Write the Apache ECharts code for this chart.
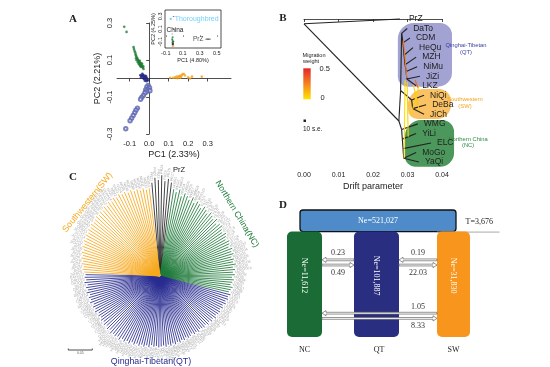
<!DOCTYPE html>
<html><head><meta charset="utf-8">
<script src="https://cdn.jsdelivr.net/npm/echarts@6/dist/echarts.min.js"></script>
<style>html,body{margin:0;padding:0;background:#fff}#c{width:550px;height:367px}</style>
</head><body><div id="c"></div>
<script>
// ---------------- Panel A: PCA ----------------
const pcaGreen = [[-0.128,0.280],[-0.116,0.252],[-0.080,0.170],[-0.078,0.160],[-0.075,0.150],[-0.072,0.142],[-0.070,0.132],[-0.068,0.125],[-0.066,0.118],[-0.062,0.112],[-0.060,0.106],[-0.057,0.100],[-0.055,0.096],[-0.052,0.092],[-0.050,0.088],[-0.048,0.084],[-0.046,0.080],[-0.044,0.076],[-0.041,0.072],[-0.038,0.068],[-0.035,0.064],[-0.032,0.058],[-0.029,0.052],[-0.058,0.088],[-0.054,0.080],[-0.050,0.074],[-0.046,0.068],[-0.042,0.062],[-0.064,0.098],[-0.068,0.108],[-0.040,0.084],[-0.036,0.078],[-0.048,0.096],[-0.030,0.066]];
const pcaNavy = [[-0.045,0.018],[-0.040,0.015],[-0.036,0.012],[-0.032,0.020],[-0.028,0.010],[-0.024,0.016],[-0.020,0.008],[-0.016,0.013],[-0.012,0.004],[-0.030,0.002],[-0.025,-0.004],[-0.018,-0.002],[-0.010,-0.008],[-0.022,-0.012],[-0.014,-0.015],[-0.006,-0.010],[-0.035,0.026],[-0.042,0.005]];
const pcaBlueOpen = [[-0.005,-0.038],[-0.012,-0.045],[0.002,-0.050],[-0.008,-0.058],[-0.018,-0.062],[0.004,-0.066],[-0.014,-0.072],[-0.022,-0.078],[-0.030,-0.092],[-0.038,-0.102],[-0.044,-0.112],[-0.060,-0.160],[-0.068,-0.172],[-0.074,-0.185],[-0.082,-0.200],[-0.090,-0.215],[-0.098,-0.228],[-0.120,-0.272]];
const pcaOrange = [[0.108,0.004],[0.124,0.004],[0.133,0.006],[0.141,0.010],[0.148,0.008],[0.152,0.012],[0.158,0.014],[0.164,0.010],[0.167,0.018],[0.172,0.024],[0.178,0.024],[0.184,0.016],[0.200,0.006],[0.210,0.000],[0.220,0.010],[0.270,0.010],[0.145,0.002],[0.160,0.004]];
const xTicksA = [-0.1,0,0.1,0.2,0.3];
const yTicksA = [-0.3,-0.1,0.1,0.3];
// inset
const insetGreen = [[-0.02,-0.03],[-0.025,-0.06],[-0.02,-0.08],[-0.015,-0.10],[-0.022,-0.11],[-0.018,-0.125]];
const insetNavy = [[-0.02,-0.14],[-0.015,-0.135]];
const insetOrange = [[-0.02,-0.17],[-0.012,-0.165]];
const insetTeal = [[-0.025,0.02]];
const insetThoroughbred = [[-0.043,0.26]];
const insetPrZ = [[0.385,-0.06],[0.41,-0.06]];
const xTicksInset = [-0.1,0.1,0.3,0.5];
const yTicksInset = [-0.1,0.1,0.3];

// ---------------- Panel B: TreeMix ----------------
const treemixLeaves = ['PrZ','DaTo','CDM','HeQu','MZH','NiMu','JiZi','LKZ','NiQi','DeBa','JiCh','WMG','YiLi','ELC','MoGo','YaQi'];
const leafDrift = [0.0278,0.0299,0.0307,0.0316,0.0325,0.0328,0.0336,0.0325,0.0348,0.0354,0.0348,0.0330,0.0325,0.0368,0.0325,0.0333];
// edges: [drift1, leafPos1, drift2, leafPos2]
const treeEdges = [
 [0,0.5,0.0278,0],[0,0.5,0.0275,10.7],
 [0.0275,10.7,0.0280,7.5],[0.0280,7.5,0.0283,1.5],
 [0.0283,1.5,0.0299,1],[0.0283,1.5,0.0287,2.5],
 [0.0287,2.5,0.0307,2],[0.0287,2.5,0.0290,3.8],
 [0.0290,3.8,0.0316,3],[0.0290,3.8,0.0293,4.8],
 [0.0293,4.8,0.0325,4],[0.0293,4.8,0.0296,5.5],
 [0.0296,5.5,0.0328,5],[0.0296,5.5,0.0298,6.3],
 [0.0298,6.3,0.0336,6],[0.0298,6.3,0.0325,7],
 [0.0280,7.5,0.0312,8.5],[0.0312,8.5,0.0348,8],
 [0.0312,8.5,0.0315,9.4],[0.0315,9.4,0.0354,9],[0.0315,9.4,0.0348,10],
 [0.0275,10.7,0.0283,11.6],[0.0283,11.6,0.0330,11],
 [0.0283,11.6,0.0285,12.6],[0.0285,12.6,0.0325,12],
 [0.0285,12.6,0.0287,13.6],[0.0287,13.6,0.0368,13],
 [0.0287,13.6,0.0289,14.6],[0.0289,14.6,0.0325,14],[0.0289,14.6,0.0333,15]
];
// migration edges: [drift1, pos1, drift2, pos2, weight]
const migEdges = [
 [0.0293,6.4,0.0290,14.6,0.02],[0.0299,6.6,0.0302,12.35,0.05],
 [0.0317,6.9,0.0334,9.55,0.08],[0.0333,7.0,0.0310,10.1,0.05],
 [0.0288,2.2,0.0298,6.2,0.30],[0.0322,6.4,0.0330,7.2,0.35]
];
// clade regions: [drift1, pos1, drift2, pos2]
const cladeNames = ['Qinghai-Tibetan','Southwestern','Northern China'];
const cladeAbbr = ['(QT)','(SW)','(NC)'];
const cladeBoxes = [[0.0272,0.42,0.0429,7.1],[0.0301,7.35,0.0426,10.5],[0.0293,10.6,0.0435,15.5]];

// ---------------- Panel C: radial NJ tree ----------------
const prBreeds = ['PrZ'], prCounts = [7];
const prLen = [0.195,0.205,0.200,0.210,0.198,0.203,0.196];
const ncBreeds = ['WMG','YiLi','ELC','MoGo','YaQi'], ncCounts = [10,10,9,10,9];
const ncLen = [0.183,0.178,0.185,0.172,0.180,0.176,0.170,0.178,0.168,0.174,0.171,0.165,0.172,0.168,0.163,0.170,0.166,0.162,0.168,0.160,0.165,0.167,0.161,0.158,0.164,0.160,0.156,0.162,0.159,0.155,0.161,0.157,0.160,0.154,0.158,0.155,0.160,0.153,0.157,0.152,0.156,0.150,0.154,0.151,0.148,0.153,0.150,0.147];
const qtBreeds = ['LKZ','JiZi','NiMu','MZH','HeQu','CDM','DaTo'], qtCounts = [12,12,12,12,12,12,12];
const qtLen = [0.152,0.148,0.150,0.146,0.149,0.144,0.147,0.143,0.146,0.145,0.142,0.146,
 0.141,0.144,0.140,0.143,0.139,0.142,0.140,0.138,0.142,0.139,0.141,0.137,0.140,
 0.142,0.139,0.143,0.141,0.145,0.142,0.146,0.143,0.147,0.144,0.148,0.145,0.147,
 0.149,0.146,0.148,0.145,0.150,0.147,0.151,0.148,0.152,0.149,0.153,0.150,0.155,
 0.152,0.156,0.153,0.158,0.154,0.157,0.155,0.159,0.153,0.156,0.152,0.155,0.151,
 0.154,0.150,0.153,0.149,0.155,0.151,0.154,0.150,0.156,0.152,0.155,0.151,
 0.157,0.153,0.156,0.152,0.158,0.154,0.157,0.155];
const swBreeds = ['JiCh','DeBa','NiQi'], swCounts = [14,14,13];
const swLen = [0.158,0.162,0.160,0.165,0.163,0.168,0.166,0.170,0.168,0.173,
 0.171,0.175,0.172,0.177,0.174,0.178,0.176,0.180,0.177,0.179,
 0.182,0.179,0.184,0.181,0.186,0.183,0.188,0.185,0.190,0.187,
 0.191,0.188,0.190,0.186,0.189,0.185,0.187,0.183,0.186,0.182,0.184];
const cGroupNames = ['PrZ','Northern China(NC)','Qinghai-Tibetan(QT)','Southwestern(SW)'];
const scaleBarValue = 0.05;

// ---------------- Panel D: demography ----------------
const popNames = ['NC','QT','SW'];
const popNe = [11612,101887,31830];
const ancNe = 521027;
const splitT = 3676;
const migFrom = [0,1,0], migTo = [1,2,2];
const migRateUpper = [0.23,0.19,1.05];
const migRateLower = [0.49,22.03,8.33];

// ================= styles / layout =================
const SANS = 'Liberation Sans, Arial, sans-serif';
const SERIF = 'Liberation Serif, Times New Roman, serif';
const colGreen = '#1f7a33', colNavy = '#1d2180', colBlue = '#5a63b0', colOrange = '#f6a11e';
const cColors = ['#222222','#1f7a3a','#272a8f','#f7a81b'];
const cladeFill = ['#a2a2d3','#fac262','#4c975b'];
const cladeText = ['#3b3fa0','#f5a31e','#2f8a45'];
const popColors = ['#1b6b36','#2a2e80','#f7951d'];
const boxW = [35,45,33];
const popTop = 0.83, migRows = [0.587,0.587,0.167];
const POLAR_R = 96, POLAR_MAX = 0.2;

const fmtComma = n => String(n).replace(/\B(?=(\d{3})+(?!\d))/g, ',');
const migColor = w => echarts.color.lerp(Math.min(w/0.5,1), ['#ffe400','#f7901e','#e3262b']);

// build leaves of panel C
const leafNames = [], leafLen = [], leafGroup = [];
[[prBreeds,prCounts,prLen],[ncBreeds,ncCounts,ncLen],[qtBreeds,qtCounts,qtLen],[swBreeds,swCounts,swLen]].forEach((g,gi)=>{
  let k = 0;
  g[0].forEach((b,bi)=>{
    for (let j=1;j<=g[1][bi];j++){ leafNames.push(b.toUpperCase()+j); leafLen.push(g[2][k++]); leafGroup.push(gi); }
  });
});

const axLine = {show:true, lineStyle:{color:'#222', width:0.8}};
const axTick = {show:true, length:3, lineStyle:{color:'#222', width:0.8}};

const chart = echarts.init(document.getElementById('c'));
const option = {
  backgroundColor:'#fff',
  animation:false,
  grid:[
    {left:117, top:23, width:114, height:111, outerBoundsMode:'none'},
    {left:165, top:10, width:56, height:38, show:true, borderColor:'#222', borderWidth:0.8, backgroundColor:'#fff', outerBoundsMode:'none'},
    {left:304, top:19, width:138, height:143, outerBoundsMode:'none'},
    {left:267.25, top:210, width:223.5, height:127, outerBoundsMode:'none'}
  ],
  xAxis:[
    {gridIndex:0, type:'value', min:-0.165, max:0.42, offset:3, axisLine:axLine,
     axisTick:Object.assign({customValues:xTicksA}, axTick), splitLine:{show:false},
     axisLabel:{customValues:xTicksA, formatter:v=>v.toFixed(1), fontSize:7.5, fontFamily:SANS, color:'#222', margin:3},
     name:'PC1 (2.33%)', nameLocation:'middle', nameGap:13, nameTextStyle:{fontSize:9, fontFamily:SANS, color:'#222'}},
    {gridIndex:1, type:'value', min:-0.11, max:0.55, axisLine:{show:false},
     axisTick:{show:true, customValues:xTicksInset, length:1.5, lineStyle:{color:'#222', width:0.6}}, splitLine:{show:false},
     axisLabel:{customValues:xTicksInset, formatter:v=>v.toFixed(1), fontSize:5.5, fontFamily:SANS, color:'#222', margin:2},
     name:'PC1 (4.80%)', nameLocation:'middle', nameGap:9, nameTextStyle:{fontSize:5.5, fontFamily:SANS, color:'#222'}},
    {gridIndex:2, type:'value', min:0, max:0.04, interval:0.01, offset:7, axisLine:axLine,
     axisTick:axTick, splitLine:{show:false},
     axisLabel:{formatter:v=>v.toFixed(2), fontSize:7, fontFamily:SANS, color:'#222', margin:3},
     name:'Drift parameter', nameLocation:'middle', nameGap:13, nameTextStyle:{fontSize:9, fontFamily:SANS, color:'#222'}},
    {gridIndex:3, type:'category', data:popNames, axisLine:{show:false}, axisTick:{show:false}, splitLine:{show:false},
     axisLabel:{fontSize:8, fontFamily:SERIF, color:'#222', margin:9}}
  ],
  yAxis:[
    {gridIndex:0, type:'value', min:-0.3, max:0.3, axisLine:axLine,
     axisTick:Object.assign({customValues:yTicksA}, axTick), splitLine:{show:false},
     axisLabel:{customValues:yTicksA, formatter:v=>v.toFixed(1), rotate:90, fontSize:7.5, fontFamily:SANS, color:'#222', margin:3},
     name:'PC2 (2.21%)', nameLocation:'middle', nameGap:15, nameRotate:90, nameTextStyle:{fontSize:9, fontFamily:SANS, color:'#222'}},
    {gridIndex:1, type:'value', min:-0.2, max:0.4, axisLine:{show:false},
     axisTick:{show:true, customValues:yTicksInset, length:1.5, lineStyle:{color:'#222', width:0.6}}, splitLine:{show:false},
     axisLabel:{customValues:yTicksInset, formatter:v=>v.toFixed(1), rotate:90, fontSize:5.5, fontFamily:SANS, color:'#222', margin:2},
     name:'PC2 (4.25%)', nameLocation:'middle', nameGap:8, nameRotate:90, nameTextStyle:{fontSize:5.5, fontFamily:SANS, color:'#222'}},
    {gridIndex:2, type:'value', min:0, max:15, inverse:true, show:false},
    {gridIndex:3, type:'value', min:0, max:1, show:false}
  ],
  polar:{center:[160,276], radius:POLAR_R},
  angleAxis:{type:'category', data:leafNames, startAngle:96, show:false, axisLine:{show:false}, axisLabel:{show:false}, axisTick:{show:false}, splitLine:{show:false}},
  radiusAxis:{min:0, max:POLAR_MAX, show:false, axisLine:{show:false}, axisLabel:{show:false}, axisTick:{show:false}, splitLine:{show:false}},
  series:[
    {type:'scatter', xAxisIndex:0, yAxisIndex:0, data:pcaGreen, symbolSize:2.6, itemStyle:{color:colGreen}},
    {type:'scatter', xAxisIndex:0, yAxisIndex:0, data:pcaNavy, symbolSize:2.6, itemStyle:{color:colNavy}},
    {type:'scatter', xAxisIndex:0, yAxisIndex:0, data:pcaBlueOpen, symbol:'emptyCircle', symbolSize:3.4, itemStyle:{color:colBlue, borderColor:colBlue, borderWidth:0.7}},
    {type:'scatter', xAxisIndex:0, yAxisIndex:0, data:pcaOrange, symbolSize:2.6, itemStyle:{color:colOrange}},
    {type:'scatter', xAxisIndex:1, yAxisIndex:1, data:insetGreen, symbolSize:2, itemStyle:{color:colGreen}, z:5},
    {type:'scatter', xAxisIndex:1, yAxisIndex:1, data:insetNavy, symbolSize:2, itemStyle:{color:colNavy}, z:5},
    {type:'scatter', xAxisIndex:1, yAxisIndex:1, data:insetOrange, symbolSize:2, itemStyle:{color:colOrange}, z:5},
    {type:'scatter', xAxisIndex:1, yAxisIndex:1, data:insetTeal, symbolSize:1.5, itemStyle:{color:'#6fb7a6'}, z:5},
    {type:'scatter', xAxisIndex:1, yAxisIndex:1, data:insetThoroughbred, symbol:'rect', symbolSize:2, itemStyle:{color:'#4fc3f7'}, z:5,
     label:{show:true, position:'right', distance:3, formatter:'Thoroughbred', fontSize:7, fontFamily:SANS, color:'#4fc3f7'}},
    {type:'scatter', xAxisIndex:1, yAxisIndex:1, data:insetPrZ, symbol:'rect', symbolSize:[3,1], itemStyle:{color:'#222'}, z:5,
     label:{show:true, position:'left', distance:2, formatter:p=>p.dataIndex===0?'PrZ':'', fontSize:6.5, fontFamily:SANS, color:'#222'}},
    // Panel B clades
    {type:'custom', xAxisIndex:2, yAxisIndex:2, data:cladeBoxes, z:1, clip:false,
     renderItem:(p,api)=>{
       const a = api.coord([api.value(0),api.value(1)]), b = api.coord([api.value(2),api.value(3)]);
       const i = p.dataIndex;
       const tx = b[0] + 14, ty = (a[1]+b[1])/2 - (i===0?6:1);
       return {type:'group', children:[
         {type:'rect', shape:{x:a[0], y:a[1], width:b[0]-a[0], height:b[1]-a[1], r:[16,12,14,10]}, style:{fill:cladeFill[i]}},
         {type:'text', x:tx, y:ty, style:{text:cladeNames[i]+'\n'+cladeAbbr[i], fontSize:5.8, lineHeight:6.5, fontFamily:SANS, fill:cladeText[i], align:'center', verticalAlign:'middle'}}
       ]};
     }},
    {type:'custom', xAxisIndex:2, yAxisIndex:2, data:treeEdges, z:3, clip:false,
     renderItem:(p,api)=>{
       const a = api.coord([api.value(0),api.value(1)]), b = api.coord([api.value(2),api.value(3)]);
       return {type:'line', shape:{x1:a[0],y1:a[1],x2:b[0],y2:b[1]}, style:{stroke:'#222', lineWidth:1.1}};
     }},
    {type:'custom', xAxisIndex:2, yAxisIndex:2, data:migEdges, z:4, clip:false,
     renderItem:(p,api)=>{
       const a = api.coord([api.value(0),api.value(1)]), b = api.coord([api.value(2),api.value(3)]);
       return {type:'line', shape:{x1:a[0],y1:a[1],x2:b[0],y2:b[1]}, style:{stroke:migColor(api.value(4)), lineWidth:1.1}};
     }},
    {type:'custom', xAxisIndex:2, yAxisIndex:2, data:leafDrift.map((d,i)=>[d,i]), z:5, clip:false,
     renderItem:(p,api)=>{
       const a = api.coord([api.value(0),api.value(1)]);
       const i = p.dataIndex;
       return {type:'text', x:a[0]+(i===0?9:6), y:a[1], style:{text:treemixLeaves[i], fontSize:8.5, fontFamily:SANS, fill:'#222', align:'left', verticalAlign:'middle'}};
     }},
    // Panel C radial tree
    {type:'custom', coordinateSystem:'polar', data:leafLen.map((r,i)=>[r,i]), encode:{radius:0, angle:1}, z:2, clip:false,
     renderItem:(p,api)=>{
       const i = api.value(1), r = api.value(0);
       const c = api.coord([0,i]), e = api.coord([r,i]);
       const dx = e[0]-c[0], dy = e[1]-c[1], L = Math.sqrt(dx*dx+dy*dy);
       const ux = dx/L, uy = dy/L;
       const th = Math.atan2(-dy, dx);
       const right = dx >= -0.01;
       return {type:'group', children:[
         {type:'line', shape:{x1:c[0],y1:c[1],x2:e[0],y2:e[1]}, style:{stroke:cColors[leafGroup[i]], lineWidth:0.85}},
         {type:'text', x:e[0]+ux*1.5, y:e[1]+uy*1.5, rotation: right? th : th-Math.PI,
          style:{text:leafNames[i], fontSize:3.6, fontFamily:SANS, fill:'#a8a8a8', align: right?'left':'right', verticalAlign:'middle'}}
       ]};
     }},
    // Panel D ancestral box
    {type:'custom', xAxisIndex:3, yAxisIndex:3, data:[[ancNe, splitT]], z:3, clip:false,
     renderItem:(p,api)=>{
       const l = api.coord([0,1]), r = api.coord([2,popTop]);
       const x1 = l[0]-boxW[0]/2+13, x2 = r[0]+2.5;
       const sw = api.coord([2,popTop]);
       return {type:'group', children:[
         {type:'rect', shape:{x:x1, y:l[1], width:x2-x1, height:r[1]-l[1], r:3}, style:{fill:'#4f8bc9', stroke:'#111', lineWidth:1.3}},
         {type:'text', x:(x1+x2)/2, y:(l[1]+r[1])/2, style:{text:'Ne='+fmtComma(ancNe), fontSize:8, fontFamily:SERIF, fill:'#fff', align:'center', verticalAlign:'middle'}},
         {type:'line', shape:{x1:sw[0]-boxW[2]/2, y1:sw[1]+0.5, x2:sw[0]+46, y2:sw[1]+0.5}, style:{stroke:'#aaa', lineWidth:1}},
         {type:'text', x:sw[0]+12, y:(l[1]+r[1])/2+1, style:{text:'T='+fmtComma(splitT), fontSize:8, fontFamily:SERIF, fill:'#222', align:'left', verticalAlign:'middle'}}
       ]};
     }},
    // Panel D population boxes
    {type:'custom', xAxisIndex:3, yAxisIndex:3, data:popNe.map((n,i)=>[i,n]), z:3, clip:false,
     renderItem:(p,api)=>{
       const i = p.dataIndex;
       const b = api.coord([i,0]), t = api.coord([i,popTop]);
       const cx = b[0] + (i===1?-2.5:0);
       return {type:'group', children:[
         {type:'rect', shape:{x:cx-boxW[i]/2, y:t[1], width:boxW[i], height:b[1]-t[1], r:5}, style:{fill:popColors[i]}},
         {type:'text', x:cx, y:t[1]+44, rotation:-Math.PI/2, style:{text:'Ne='+fmtComma(popNe[i]), fontSize:8, fontFamily:SERIF, fill:'#fff', align:'center', verticalAlign:'middle'}}
       ]};
     }},
    // Panel D migration arrows
    {type:'custom', xAxisIndex:3, yAxisIndex:3, data:migFrom.map((f,i)=>[f,migTo[i]]), z:4, clip:false,
     renderItem:(p,api)=>{
       const i = p.dataIndex, f = migFrom[i], t = migTo[i];
       const cxOf = k => api.coord([k,0])[0] + (k===1?-2.5:0);
       const xL = cxOf(f)+boxW[f]/2, xR = cxOf(t)-boxW[t]/2;
       const y = api.coord([0,migRows[i]])[1];
       const prev = t-1; const lx = (xR + cxOf(prev)+boxW[prev]/2)/2;
       const h=4, hw=2.6, s=0.9;
       const yu = y-2.6, yd = y+2.6;
       const leftArrow = [[xL,yu],[xL+h,yu-hw],[xL+h,yu-s],[xR,yu-s],[xR,yu+s],[xL+h,yu+s],[xL+h,yu+hw]];
       const rightArrow = [[xR,yd],[xR-h,yd-hw],[xR-h,yd-s],[xL,yd-s],[xL,yd+s],[xR-h,yd+s],[xR-h,yd+hw]];
       const st = {fill:'#fff', stroke:'#666', lineWidth:0.7};
       return {type:'group', children:[
         {type:'polygon', shape:{points:leftArrow}, style:st},
         {type:'polygon', shape:{points:rightArrow}, style:st},
         {type:'text', x:lx, y:yu-6.5, style:{text:String(migRateUpper[i]), fontSize:8, fontFamily:SERIF, fill:'#333', align:'center', verticalAlign:'middle'}},
         {type:'text', x:lx, y:yd+7.5, style:{text:String(migRateLower[i]), fontSize:8, fontFamily:SERIF, fill:'#333', align:'center', verticalAlign:'middle'}}
       ]};
     }}
  ],
  graphic:[
    {type:'text', x:73, y:19, style:{text:'A', fontSize:11, fontWeight:'bold', fontFamily:SERIF, fill:'#222', align:'center', verticalAlign:'middle'}},
    {type:'text', x:283, y:18, style:{text:'B', fontSize:11, fontWeight:'bold', fontFamily:SERIF, fill:'#222', align:'center', verticalAlign:'middle'}},
    {type:'text', x:73, y:177, style:{text:'C', fontSize:11, fontWeight:'bold', fontFamily:SERIF, fill:'#222', align:'center', verticalAlign:'middle'}},
    {type:'text', x:283, y:205, style:{text:'D', fontSize:11, fontWeight:'bold', fontFamily:SERIF, fill:'#222', align:'center', verticalAlign:'middle'}},
    {type:'text', x:166.5, y:30, z:10, style:{text:'China', fontSize:6.5, fontFamily:SANS, fill:'#222', align:'left', verticalAlign:'middle'}},
    {type:'text', x:302.5, y:55, style:{text:'Migration', fontSize:5.6, fontFamily:SANS, fill:'#222', align:'left', verticalAlign:'middle'}},
    {type:'text', x:303, y:61.8, style:{text:'weight', fontSize:5.6, fontFamily:SANS, fill:'#222', align:'left', verticalAlign:'middle'}},
    {type:'rect', shape:{x:303.3, y:68.3, width:7.4, height:31}, style:{fill:new echarts.graphic.LinearGradient(0,0,0,1,[{offset:0,color:'#e3262b'},{offset:0.5,color:'#f58220'},{offset:1,color:'#ffe400'}])}},
    {type:'text', x:319.5, y:68.5, style:{text:'0.5', fontSize:7.5, fontFamily:SANS, fill:'#222', align:'left', verticalAlign:'middle'}},
    {type:'text', x:320.5, y:97.5, style:{text:'0', fontSize:7.5, fontFamily:SANS, fill:'#222', align:'left', verticalAlign:'middle'}},
    {type:'rect', shape:{x:303.5, y:119.5, width:2.5, height:2.5}, style:{fill:'#222'}},
    {type:'text', x:303, y:129, style:{text:'10 s.e.', fontSize:6.5, fontFamily:SANS, fill:'#222', align:'left', verticalAlign:'middle'}},
    {type:'text', x:179, y:170, z:10, style:{text:cGroupNames[0], fontSize:7.5, fontFamily:SANS, fill:'#222', align:'center', verticalAlign:'middle'}},
    {type:'text', x:237, y:214, z:10, rotation:-59*Math.PI/180, style:{text:cGroupNames[1], fontSize:8.6, fontFamily:SANS, fill:cColors[1], align:'center', verticalAlign:'middle'}},
    {type:'text', x:151, y:361.5, z:10, style:{text:cGroupNames[2], fontSize:8.8, fontFamily:SANS, fill:cColors[2], align:'center', verticalAlign:'middle'}},
    {type:'text', x:87.5, y:202.5, z:10, rotation:51*Math.PI/180, style:{text:cGroupNames[3], fontSize:8.8, fontFamily:SANS, fill:cColors[3], align:'center', verticalAlign:'middle'}},
    {type:'polyline', shape:{points:[[68.3,348.5],[68.3,350],[68.3+scaleBarValue*POLAR_R/POLAR_MAX,350],[68.3+scaleBarValue*POLAR_R/POLAR_MAX,348.5]]}, style:{stroke:'#222', lineWidth:0.8, fill:null}},
    {type:'text', x:68.3+scaleBarValue*POLAR_R/POLAR_MAX/2, y:353.5, style:{text:String(scaleBarValue), fontSize:3.5, fontFamily:SANS, fill:'#666', align:'center', verticalAlign:'middle'}}
  ]
};
chart.setOption(option);
</script></body></html>
